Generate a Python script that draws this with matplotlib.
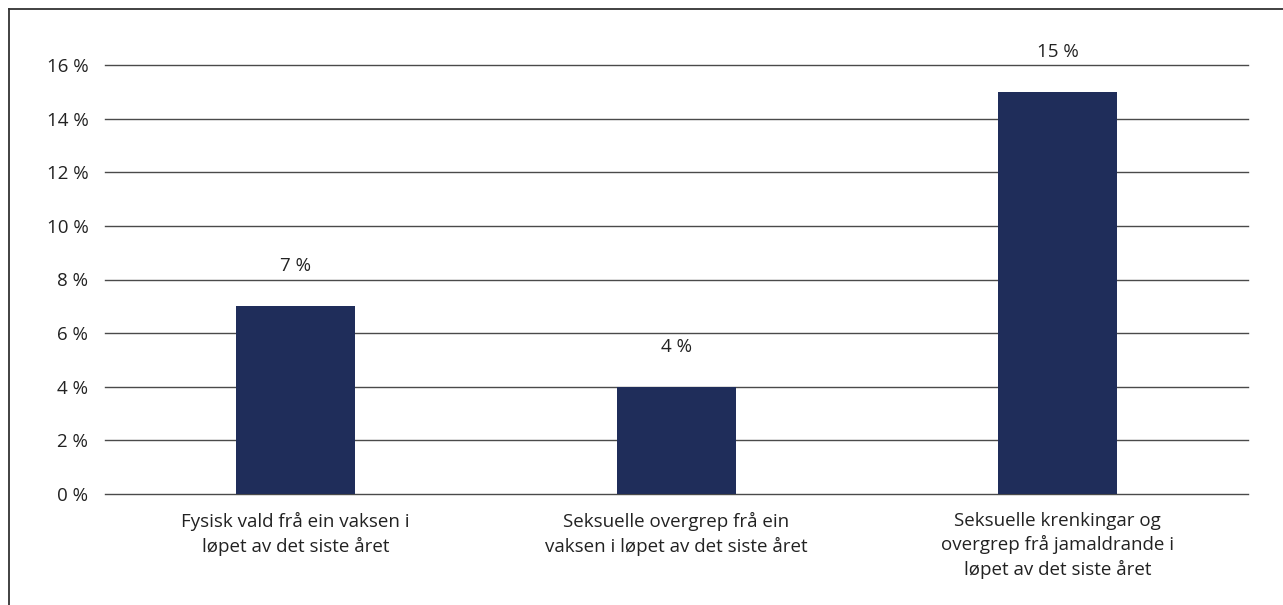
import matplotlib
matplotlib.use("Agg")
import matplotlib.pyplot as plt
from matplotlib.lines import Line2D

categories = [
    "Fysisk vald frå ein vaksen i\nløpet av det siste året",
    "Seksuelle overgrep frå ein\nvaksen i løpet av det siste året",
    "Seksuelle krenkingar og\novergrep frå jamaldrande i\nløpet av det siste året",
]
values = [7, 4, 15]
yticks = [0, 2, 4, 6, 8, 10, 12, 14, 16]
ytick_labels = [f"{v} %" for v in yticks]
value_labels = [f"{v} %" for v in values]

plt.rcParams['font.family'] = ['Open Sans', 'DejaVu Sans']
FS = 13.5
TC = "#222222"

fig = plt.figure(figsize=(12.83, 6.05), dpi=100)
ax = fig.add_axes([105/1283, 1-494/605, (1248-105)/1283, (494-65)/605])

x = list(range(len(categories)))
ax.bar(x, values, width=0.3125, color="#1f2d5a", zorder=3)
for xi, v, lab in zip(x, values, value_labels):
    ax.text(xi, v + 1.5, lab, ha="center", va="center", fontsize=FS, color=TC)

ax.set_xlim(-0.5, 2.5)
ax.set_ylim(0, 16)
ax.set_yticks(yticks)
ax.set_yticklabels(ytick_labels, fontsize=FS, color=TC)
ax.set_xticks(x)
ax.set_xticklabels(categories, fontsize=FS, color=TC, linespacing=1.36)
ax.tick_params(axis="both", length=0)
ax.tick_params(axis="y", pad=12)
ax.tick_params(axis="x", pad=13)
ax.grid(axis="y", color="#4a4a4a", linewidth=1.0, zorder=0)
for gl in ax.get_ygridlines():
    gl.set_clip_on(False)
for s in ax.spines.values():
    s.set_visible(False)

# outer frame (left and top)
fig.add_artist(Line2D([8.5/1283, 8.5/1283], [0, 1-8.5/605], transform=fig.transFigure, color="#333333", linewidth=1.3))
fig.add_artist(Line2D([8.5/1283, 1], [1-8.5/605, 1-8.5/605], transform=fig.transFigure, color="#333333", linewidth=1.3))

fig.savefig("out.png", dpi=100)
